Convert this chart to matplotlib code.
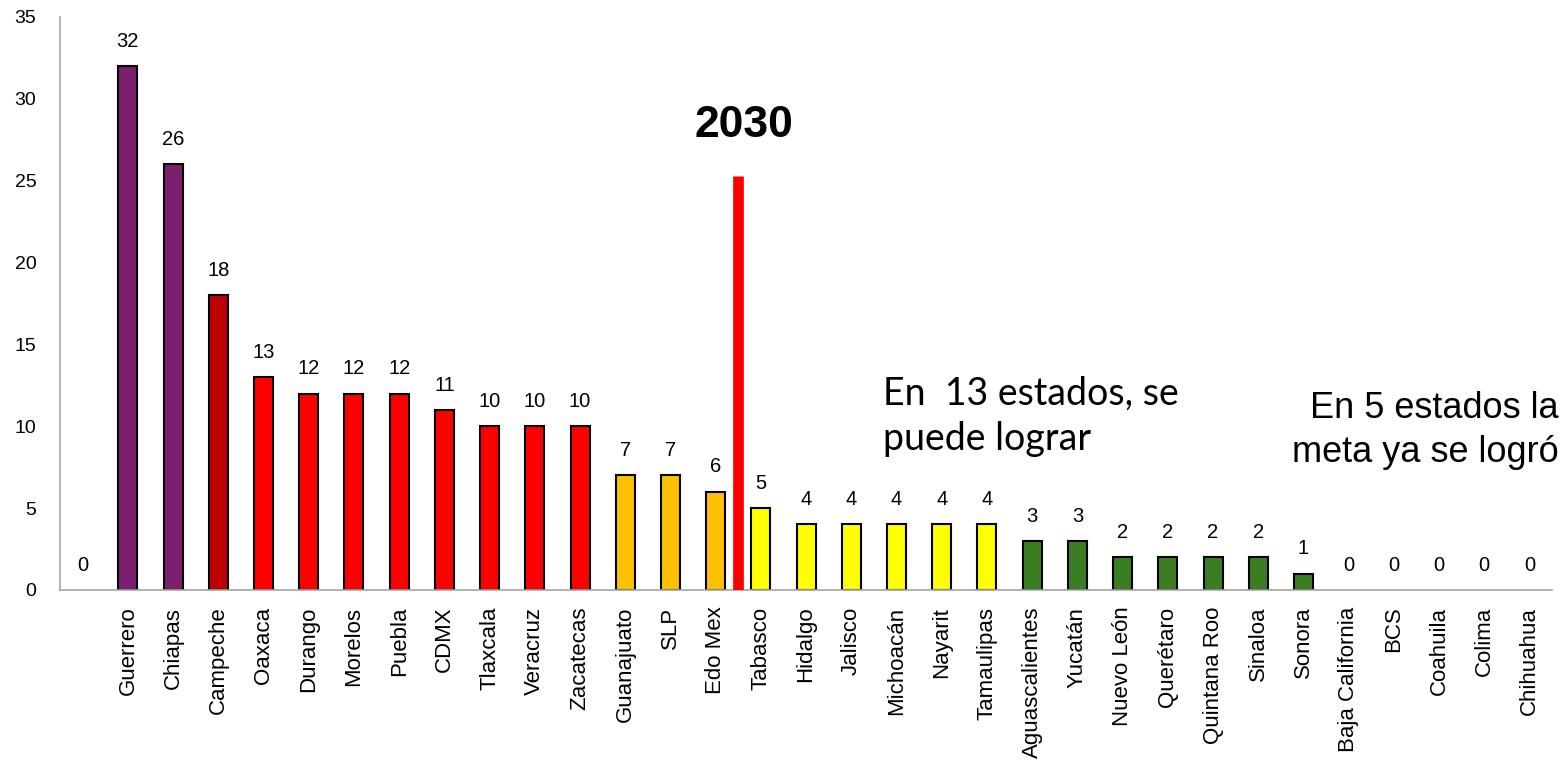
import matplotlib
matplotlib.use("Agg")
import matplotlib.pyplot as plt

plt.rcParams['font.family'] = ['Liberation Sans', 'DejaVu Sans']

estados = ['', 'Guerrero', 'Chiapas', 'Campeche', 'Oaxaca', 'Durango', 'Morelos',
           'Puebla', 'CDMX', 'Tlaxcala', 'Veracruz', 'Zacatecas', 'Guanajuato',
           'SLP', 'Edo Mex', 'Tabasco', 'Hidalgo', 'Jalisco', 'Michoacán',
           'Nayarit', 'Tamaulipas', 'Aguascalientes', 'Yucatán', 'Nuevo León',
           'Querétaro', 'Quintana Roo', 'Sinaloa', 'Sonora', 'Baja California',
           'BCS', 'Coahuila', 'Colima', 'Chihuahua']
valores = [0, 32, 26, 18, 13, 12, 12, 12, 11, 10, 10, 10, 7, 7, 6, 5,
           4, 4, 4, 4, 4, 3, 3, 2, 2, 2, 2, 1, 0, 0, 0, 0, 0]

# grupo de color de cada estado
grupos = ['v'] + ['morado'] * 2 + ['guinda'] + ['rojo'] * 8 + ['naranja'] * 3 + \
         ['amarillo'] * 6 + ['verde'] * 7 + ['v'] * 5
paleta = {'morado': '#7B1F6E', 'guinda': '#C00000', 'rojo': '#FF0000',
          'naranja': '#FFC000', 'amarillo': '#FFFF00', 'verde': '#3B7D23',
          'v': '#FFFFFF'}

meta_pos = 14.5
meta_alto = 25.3

fig = plt.figure(figsize=(15.64, 7.65), dpi=100)
ax = fig.add_axes([0.0384, 0.2288, 0.954, 0.749])

x = list(range(len(estados)))
colores = [paleta[g] for g in grupos]
bordes = [1.5 if v > 0 else 0 for v in valores]
ax.bar(x, valores, width=0.42, color=colores, edgecolor='black', linewidth=bordes, zorder=2)

for xi, v in zip(x, valores):
    ax.annotate(str(v), (xi, v), xytext=(0, 11), textcoords='offset points',
                ha='center', va='bottom', fontsize=14.5)

ax.plot([meta_pos, meta_pos], [0, meta_alto], color='#FF0000', lw=7.7,
        solid_capstyle='butt', zorder=3)
ax.text(meta_pos + 0.12, 28.4, '2030', ha='center', va='center', fontsize=32, fontweight='bold')

ax.text(17.7, 11.3, 'En  13 estados, se', ha='left', va='baseline',
        fontsize=27, family=['Lato', 'DejaVu Sans'])
ax.text(17.7, 8.55, 'puede lograr', ha='left', va='baseline',
        fontsize=27, family=['Lato', 'DejaVu Sans'])
ax.text(32.64, 10.5, 'En 5 estados la', ha='right', va='baseline', fontsize=26)
ax.text(32.64, 7.8, 'meta ya se logró', ha='right', va='baseline', fontsize=26)

ax.set_xlim(-0.5, 32.5)
ax.set_ylim(0, 35)
ax.set_yticks(range(0, 36, 5))
ax.set_xticks(x)
ax.set_xticklabels(estados, rotation=90, fontsize=16)
ax.tick_params(axis='y', length=0, pad=17, labelsize=14)
ax.tick_params(axis='x', length=0, pad=12)

for s in ['top', 'right']:
    ax.spines[s].set_visible(False)
for s in ['left', 'bottom']:
    ax.spines[s].set_color('#A6A6A6')
    ax.spines[s].set_linewidth(1.2)

fig.savefig('out.png', dpi=100)
